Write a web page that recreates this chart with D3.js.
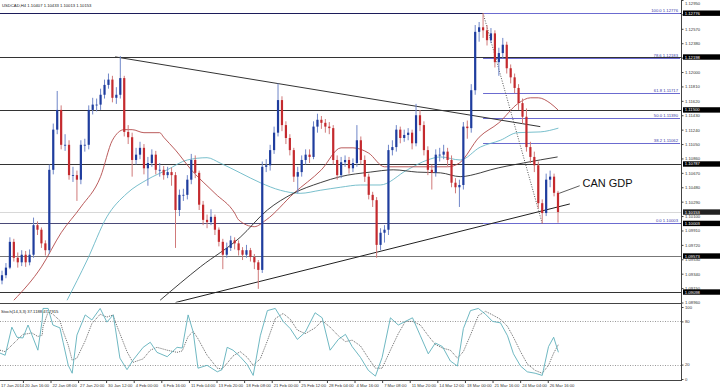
<!DOCTYPE html>
<html>
<head>
<meta charset="utf-8">
<script src="https://cdn.jsdelivr.net/npm/d3@7"></script>
<style>
body { margin: 0; background: #fff; }
svg { display: block; font-family: "Liberation Sans", Arial, sans-serif; }
</style>
</head>
<body>
<script>
// USDCAD H4 candles (open = previous close)
var firstOpen = 1.0925;
var closes = [1.0932,1.0942,1.0976,1.0955,1.0949,1.0959,1.0949,1.0959,1.0998,1.0992,
  1.0974,1.0965,1.1071,1.1124,1.1150,1.1104,1.1104,1.1064,1.1064,1.1058,
  1.1104,1.1104,1.1150,1.1157,1.1157,1.1170,1.1183,1.1190,1.1166,1.1170,
  1.1192,1.1121,1.1114,1.1084,1.1091,1.1100,1.1073,1.1080,1.1091,1.1071,
  1.1071,1.1064,1.1068,1.1064,1.1018,1.1038,1.1038,1.1058,1.1084,1.1067,
  1.1025,1.1005,1.1002,1.1009,1.0992,1.0976,1.0959,1.0968,1.0978,1.0974,
  1.0965,1.0959,1.0965,1.0956,1.0949,1.0939,1.1075,1.1077,1.1097,1.1120,
  1.1163,1.1130,1.1113,1.1097,1.1062,1.1068,1.1084,1.1091,1.1088,1.1128,
  1.1137,1.1133,1.1128,1.1126,1.1084,1.1064,1.1081,1.1084,1.1073,1.1080,
  1.1110,1.1084,1.1062,1.1038,1.1031,1.0972,1.0988,1.0992,1.1097,1.1101,
  1.1124,1.1113,1.1117,1.1120,1.1106,1.1143,1.1130,1.1097,1.1071,1.1067,
  1.1091,1.1091,1.1095,1.1084,1.1054,1.1048,1.1051,1.1128,1.1126,1.1176,
  1.1253,1.1259,1.1255,1.1242,1.1251,1.1213,1.1225,1.1236,1.1205,1.1193,
  1.1179,1.1159,1.1141,1.1101,1.1088,1.1077,1.1027,1.1014,1.1058,1.1062,
  1.10407,1.10153];
var highs = [1.0938,1.0948,1.0982,1.0980,1.0962,1.0965,1.0964,1.0966,1.1008,1.1003,
  1.0995,1.0978,1.1078,1.1132,1.1175,1.1156,1.1118,1.1110,1.1075,1.1070,
  1.1110,1.1112,1.1156,1.1166,1.1165,1.1178,1.1190,1.1198,1.1195,1.1180,
  1.1221,1.1195,1.1130,1.1120,1.1100,1.1108,1.1105,1.1088,1.1098,1.1096,
  1.1080,1.1076,1.1075,1.1074,1.1068,1.1045,1.1046,1.1064,1.1092,1.1090,
  1.1070,1.1030,1.1012,1.1019,1.1012,1.0995,1.0980,1.0975,1.0984,1.0982,
  1.0978,1.0969,1.0972,1.0968,1.0960,1.0952,1.1082,1.1085,1.1104,1.1128,
  1.1185,1.1168,1.1135,1.1118,1.1100,1.1075,1.1090,1.1098,1.1098,1.1135,
  1.1145,1.1142,1.1138,1.1134,1.1130,1.1090,1.1088,1.1090,1.1088,1.1086,
  1.1130,1.1115,1.1090,1.1066,1.1042,1.1035,1.0994,1.0998,1.1104,1.1110,
  1.1130,1.1128,1.1124,1.1126,1.1124,1.1158,1.1150,1.1135,1.1102,1.1078,
  1.1098,1.1100,1.1104,1.1100,1.1090,1.1060,1.1058,1.1134,1.1136,1.1184,
  1.1262,1.1266,1.12776,1.1262,1.1258,1.1255,1.1232,1.1245,1.1240,1.1210,
  1.1198,1.1184,1.1165,1.1152,1.1108,1.1095,1.1082,1.1032,1.1066,1.1070,
  1.1066,1.10433];
var lows = [1.0920,1.0928,1.0940,1.0950,1.0942,1.0944,1.0943,1.0945,1.0955,1.0985,
  1.0968,1.0958,1.0960,1.1065,1.1118,1.1098,1.1096,1.1058,1.1055,1.1030,
  1.1052,1.1095,1.1098,1.1144,1.1148,1.1150,1.1165,1.1178,1.1160,1.1158,
  1.1165,1.1115,1.1105,1.1062,1.1078,1.1085,1.1065,1.1050,1.1075,1.1065,
  1.1062,1.1058,1.1060,1.1050,1.0968,1.1010,1.1030,1.1032,1.1052,1.1060,
  1.1018,1.0998,1.0994,1.0998,1.0985,1.0970,1.0940,1.0955,1.0964,1.0966,
  1.0958,1.0952,1.0955,1.0950,1.0940,1.0914,1.0935,1.1068,1.1070,1.1092,
  1.1115,1.1122,1.1105,1.1090,1.1055,1.1040,1.1062,1.1078,1.1080,1.1085,
  1.1120,1.1125,1.1120,1.1118,1.1078,1.1058,1.1060,1.1075,1.1066,1.1068,
  1.1075,1.1078,1.1055,1.1032,1.1022,1.0955,1.0965,1.0975,1.0985,1.1090,
  1.1095,1.1106,1.1108,1.1110,1.1098,1.1102,1.1122,1.1090,1.1064,1.1045,
  1.1062,1.1082,1.1085,1.1076,1.1048,1.1040,1.1022,1.1045,1.1112,1.1120,
  1.1170,1.1240,1.1245,1.1235,1.1238,1.1206,1.1195,1.1218,1.1198,1.1185,
  1.1172,1.1150,1.1132,1.1095,1.1080,1.1068,1.1020,1.10003,1.1010,1.1048,
  1.1036,1.10013];

// moving averages (bar index, price)
var maRedIdx = [3,10,15,20,25,28,31,33,36,40,41,44,48,54,59,60,64,67,74,81,86,89,93,97,103,108,113,116,121,126,131,134,136,139,141];
var maRedVal = [1.0899,1.0943,1.0988,1.1022,1.1062,1.1110,1.1124,1.1124,1.1120,1.1120,1.1114,1.1097,1.1071,1.1040,1.1014,1.1005,1.0996,1.1005,1.1040,1.1071,1.1100,1.1100,1.1093,1.1075,1.1075,1.1075,1.1075,1.1080,1.1114,1.1133,1.1159,1.1166,1.1166,1.1159,1.1150];
var maTealIdx = [16.5,21.6,26.6,31.7,36.8,41.9,47,52,55.3,60.4,65.5,70.6,75.6,80.7,85.8,90.9,95.9,102.8,107.9,111.2,116.2,121.3,126.4,130.7,136.5,141.1];
var maTealVal = [1.0899,1.0952,1.1009,1.1040,1.1058,1.1071,1.1084,1.1087,1.1080,1.1067,1.1054,1.1044,1.1040,1.1044,1.1048,1.1051,1.1051,1.1071,1.1084,1.1088,1.1084,1.1101,1.1110,1.1120,1.1121,1.1126];
var maBlackIdx = [40.1,50.3,60.4,67.3,73.9,80.7,85.8,93.4,99.2,105.3,111.2,116.2,121.3,123.9,132.2,140.9];
var maBlackVal = [1.0899,1.0943,1.0982,1.1018,1.1040,1.1054,1.1062,1.1068,1.1071,1.1068,1.1067,1.1062,1.1067,1.1071,1.1080,1.1088];

// horizontal support / resistance levels
var hLevels = [1.12776, 1.12198, 1.11500, 1.10787, 1.10003, 1.09573, 1.09098];
var lastClose = 1.10153;

// fibonacci retracement
var fibPct = [100.0, 78.6, 61.8, 50.0, 38.2, 0.0];
var fibPrice = [1.12776, 1.12183, 1.11717, 1.11390, 1.11062, 1.10003];
var fibFromIdx = 122;

// trend lines [idx1, price1, idx2, price2]
var trendDown = [28.7, 1.1220, 136.5, 1.1128];
var trendUp = [44, 1.0896, 144, 1.1026];
var fibDiag = [122, 1.12776, 137, 1.10003];

// price axis
var yTicks = [1.12950,1.12760,1.12570,1.12380,1.12190,1.12000,1.11810,1.11620,1.11430,1.11240,
  1.11050,1.10860,1.10670,1.10480,1.10290,1.10100,1.09910,1.09720,1.09530,1.09340,1.09150,1.08960];

// time axis
var xTickIdx = [-1.7,5.3,12.3,19.3,26.4,33.4,40.4,47.4,54.4,61.4,68.4,75.4,82.4,89.4,96.4,103.4,110.4,117.4,124.4,131.4,138.4];
var xTickLabels = ["17 Jan 2014","20 Jan 16:00","22 Jan 08:00","27 Jan 20:00","30 Jan 12:00","4 Feb 00:00",
  "6 Feb 16:00","11 Feb 04:00","13 Feb 20:00","18 Feb 08:00","21 Feb 00:00","25 Feb 12:00","28 Feb 04:00",
  "4 Mar 16:00","7 Mar 08:00","11 Mar 20:00","14 Mar 12:00","18 Mar 00:00","21 Mar 16:00","24 Mar 04:00","26 Mar 16:00"];

// stochastic (14,3,3)
var stochIdx = [-0.5,0.8,2.5,3.8,5.3,6.6,7.6,9.1,10.2,10.4,11.7,12.9,14.7,15.5,16.8,17.8,19,21.1,22.8,24.9,
  26.6,28.2,28.7,29.9,31.7,33.2,35.8,37.6,39.3,41.9,44.4,45.7,47.2,48.5,49.7,52,54.6,55.8,57.1,58.6,
  60.4,62.2,63.7,65.5,67.3,69.3,71.3,73.1,74.9,76.9,79.4,81.2,83.2,85.3,87.1,88.8,90.9,92.9,94.7,96.4,
  98.5,100.5,102.3,104.1,106.1,108.1,109.9,111.7,113.7,115.5,117,118.8,120.8,122.6,124.4,126.4,128.2,129.7,131.5,133.2,
  135.2,137,138.6,139.9,141.1];
var stochK = [36,33,72,58,57,75,61,40,82,98,98,75,71,51,19,8,61,89,82,98,
  79,89,72,29,13,26,44,51,37,31,44,43,89,65,15,19,10,13,44,40,
  31,20,5,60,95,98,80,70,55,65,92,85,40,55,62,45,30,12,4,30,
  85,75,80,85,60,35,50,45,25,18,70,95,98,90,80,78,60,35,18,10,
  8,5,45,58,37.1188];
var stochD = [40,38,47,54,62,63,64,59,61,73,93,90,81,66,47,26,29,53,77,90,
  86,89,80,63,38,23,28,40,44,40,37,39,59,66,56,33,15,14,22,32,
  38,30,19,28,53,84,91,83,68,63,71,81,72,60,52,54,46,29,15,15,
  40,63,80,80,75,60,48,43,40,29,38,61,88,94,89,83,73,58,38,21,
  12,8,19,36,47.7915];

var W = 720, H = 387, axisX = 681;
var mainBottom = 302.5;

var svg = d3.select('body').append('svg').attr('width', W).attr('height', H);

var x = d3.scaleLinear().domain([0, 141]).range([2, 558]);
var y = d3.scaleLinear().domain([1.0896, 1.1295]).range([mainBottom, 0]);
var ys = d3.scaleLinear().domain([0, 100]).range([379, 307]);

svg.append('clipPath').attr('id', 'mainClip').append('rect')
  .attr('x', 0).attr('y', 0).attr('width', axisX).attr('height', mainBottom);
svg.append('clipPath').attr('id', 'stochClip').append('rect')
  .attr('x', 0).attr('y', 304).attr('width', axisX).attr('height', 77);

var main = svg.append('g').attr('clip-path', 'url(#mainClip)');

// horizontal levels
main.selectAll('line.level').data(hLevels).enter().append('line')
  .attr('class', 'level')
  .attr('x1', 0).attr('x2', axisX)
  .attr('y1', function(d) { return Math.round(y(d)) + 0.5; })
  .attr('y2', function(d) { return Math.round(y(d)) + 0.5; })
  .attr('stroke', function(d, i) { return i === 0 ? '#1c1c5a' : (i === 4 ? '#4a4a78' : (i === 5 ? '#777' : '#333')); })
  .attr('stroke-width', 1);

main.append('line')
  .attr('x1', 0).attr('x2', axisX)
  .attr('y1', Math.round(y(lastClose)) + 0.5).attr('y2', Math.round(y(lastClose)) + 0.5)
  .attr('stroke', '#d8d8d8');

// fibonacci lines
main.selectAll('line.fib').data(fibPrice).enter().append('line')
  .attr('class', 'fib')
  .attr('x1', x(fibFromIdx)).attr('x2', axisX - 1)
  .attr('y1', function(d) { return Math.round(y(d)) + 0.5; })
  .attr('y2', function(d) { return Math.round(y(d)) + 0.5; })
  .attr('stroke', '#6b6bd0');
main.selectAll('text.fib').data(fibPrice).enter().append('text')
  .attr('class', 'fib')
  .attr('x', axisX - 3)
  .attr('y', function(d) { return y(d) - 1.2; })
  .attr('text-anchor', 'end')
  .attr('font-size', 4.2)
  .attr('fill', '#3a3aa8')
  .text(function(d, i) { return fibPct[i].toFixed(1) + ' ' + d.toFixed(5); });

// moving averages
function maLine(idx, vals, color) {
  var pts = idx.map(function(d, i) { return [d, vals[i]]; });
  main.append('path').datum(pts)
    .attr('fill', 'none').attr('stroke', color).attr('stroke-width', 0.9)
    .attr('d', d3.line().x(function(d) { return x(d[0]); }).y(function(d) { return y(d[1]); }).curve(d3.curveMonotoneX));
}
maLine(maTealIdx, maTealVal, '#6ab8c6');
maLine(maRedIdx, maRedVal, '#b24a4a');
maLine(maBlackIdx, maBlackVal, '#2a2a2a');

// trend lines
function tline(t, color, dash) {
  main.append('line')
    .attr('x1', x(t[0])).attr('y1', y(t[1]))
    .attr('x2', x(t[2])).attr('y2', y(t[3]))
    .attr('stroke', color).attr('stroke-width', 1)
    .attr('stroke-dasharray', dash || null);
}
tline(trendDown, '#333');
tline(trendUp, '#222');
tline(fibDiag, '#555', '1,1.5');

// candles
var bars = closes.map(function(c, i) {
  return { i: i, o: i ? closes[i - 1] : firstOpen, h: highs[i], l: lows[i], c: c };
});
var cg = main.append('g');
cg.selectAll('line.wick').data(bars).enter().append('line')
  .attr('class', 'wick')
  .attr('x1', function(d) { return x(d.i); }).attr('x2', function(d) { return x(d.i); })
  .attr('y1', function(d) { return y(d.h); }).attr('y2', function(d) { return y(d.l); })
  .attr('stroke', function(d) { return d.c >= d.o ? '#6f86c8' : '#d07a7a'; })
  .attr('stroke-width', 1);
cg.selectAll('rect.body').data(bars).enter().append('rect')
  .attr('class', 'body')
  .attr('x', function(d) { return x(d.i) - 1.1; })
  .attr('width', 2.2)
  .attr('y', function(d) { return y(Math.max(d.o, d.c)); })
  .attr('height', function(d) { return Math.max(0.8, Math.abs(y(d.o) - y(d.c))); })
  .attr('fill', function(d) { return d.c >= d.o ? '#1f3d9e' : '#c42a2e'; });

// CAN GDP note
svg.append('line')
  .attr('x1', x(141.3)).attr('y1', y(1.1040))
  .attr('x2', x(146.5)).attr('y2', y(1.1050))
  .attr('stroke', '#333').attr('stroke-width', 0.8);
svg.append('text')
  .attr('x', x(147.2)).attr('y', y(1.1049))
  .attr('font-size', 11).attr('fill', '#111')
  .attr('font-family', 'Liberation Sans, Arial, sans-serif')
  .text('CAN GDP');

// panel frame
svg.append('line').attr('x1', 0).attr('x2', axisX).attr('y1', 303.5).attr('y2', 303.5).attr('stroke', '#444');
svg.append('line').attr('x1', 0).attr('x2', axisX).attr('y1', 380.5).attr('y2', 380.5).attr('stroke', '#444');
svg.append('line').attr('x1', axisX + 0.5).attr('x2', axisX + 0.5).attr('y1', 0).attr('y2', 381).attr('stroke', '#444');

// price axis
var yAxis = d3.axisRight(y).tickValues(yTicks).tickSize(2).tickPadding(1.5)
  .tickFormat(function(d) { return d.toFixed(5); });
var ya = svg.append('g').attr('transform', 'translate(' + (axisX + 0.5) + ',0)').call(yAxis);
ya.select('.domain').remove();
ya.selectAll('line').attr('stroke', '#444');
ya.selectAll('text').attr('font-size', 4.2).attr('fill', '#333').attr('font-family', 'Liberation Sans, Arial, sans-serif')
  .attr('dy', function(d) { return y(d) < 3 ? '0.95em' : '0.32em'; });

// price boxes
var boxes = hLevels.concat([lastClose]);
var bx = svg.selectAll('g.box').data(boxes).enter().append('g')
  .attr('class', 'box')
  .attr('transform', function(d) { return 'translate(' + (axisX + 2) + ',' + y(d) + ')'; });
bx.append('rect').attr('x', 0).attr('y', -2.7).attr('width', 37).attr('height', 5.4)
  .attr('fill', function(d) { return d === lastClose ? '#222' : '#000'; });
bx.append('text').attr('x', 1.8).attr('y', 1.5).attr('font-size', 4.2).attr('fill', '#fff')
  .text(function(d) { return d.toFixed(5); });

// stochastic panel
var sg = svg.append('g').attr('clip-path', 'url(#stochClip)');
sg.selectAll('line.lvl').data([80, 20]).enter().append('line')
  .attr('class', 'lvl')
  .attr('x1', 0).attr('x2', axisX)
  .attr('y1', function(d) { return Math.round(ys(d)) + 0.5; })
  .attr('y2', function(d) { return Math.round(ys(d)) + 0.5; })
  .attr('stroke', '#999').attr('stroke-dasharray', '1,1.5');
var sline = d3.line().x(function(d) { return x(d[0]); }).y(function(d) { return ys(d[1]); });
sg.append('path').datum(stochIdx.map(function(d, i) { return [d, stochD[i]]; }))
  .attr('fill', 'none').attr('stroke', '#444').attr('stroke-width', 0.8)
  .attr('stroke-dasharray', '1,1').attr('d', sline);
sg.append('path').datum(stochIdx.map(function(d, i) { return [d, stochK[i]]; }))
  .attr('fill', 'none').attr('stroke', '#5fb0bb').attr('stroke-width', 0.9).attr('d', sline);

var sAxis = d3.axisRight(ys).tickValues([100, 80, 20, 0]).tickSize(2).tickPadding(1.5);
var sa = svg.append('g').attr('transform', 'translate(' + (axisX + 0.5) + ',0)').call(sAxis);
sa.select('.domain').remove();
sa.selectAll('line').attr('stroke', '#444');
sa.selectAll('text').attr('font-size', 4.2).attr('fill', '#333').attr('font-family', 'Liberation Sans, Arial, sans-serif');

svg.append('text').attr('x', 1).attr('y', 313).attr('font-size', 4.2).attr('fill', '#222')
  .text('Stoch(14,3,3) ' + stochK[stochK.length - 1].toFixed(4) + ' ' + stochD[stochD.length - 1].toFixed(4));

// time axis
var xAxis = d3.axisBottom(x).tickValues(xTickIdx).tickSize(2).tickPadding(1)
  .tickFormat(function(d, i) { return xTickLabels[i]; });
var xa = svg.append('g').attr('transform', 'translate(0,381)').call(xAxis);
xa.select('.domain').remove();
xa.selectAll('line').attr('stroke', '#444');
xa.selectAll('text').attr('font-size', 4.2).attr('fill', '#333').attr('text-anchor', 'start')
  .attr('dx', function(d) { return Math.max(1.5, 0.5 - x(d)); })
  .attr('font-family', 'Liberation Sans, Arial, sans-serif');

// header
svg.append('text').attr('x', 2).attr('y', 6.5).attr('font-size', 4.2).attr('fill', '#222')
  .text('USDCAD,H4  1.10407 1.10433 1.10013 1.10153');
</script>
</body>
</html>
